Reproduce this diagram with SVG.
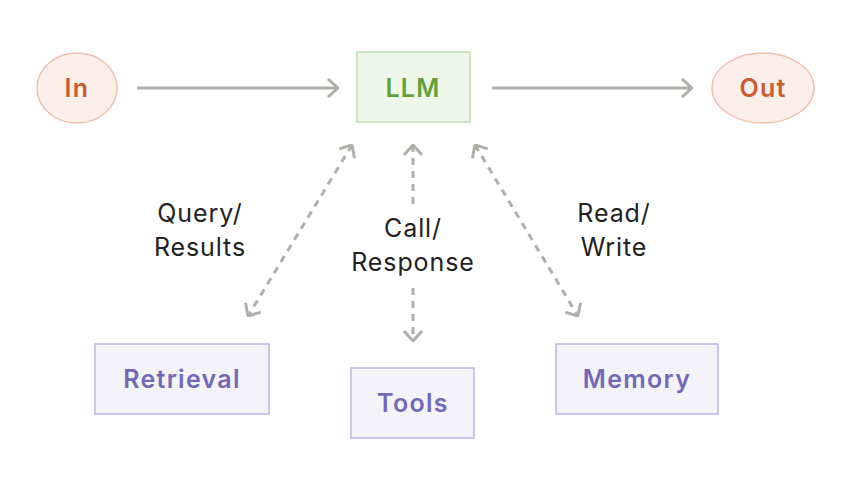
<svg xmlns="http://www.w3.org/2000/svg" width="847" height="480" viewBox="0 0 847 480">
<style>
text{font-family:Inter,"Liberation Sans",sans-serif;text-anchor:middle;dominant-baseline:central}
.t{font-size:25px;font-weight:600;letter-spacing:1.3px}
.l{font-size:25px;fill:#222;letter-spacing:0.9px}
.io ellipse{fill:#fcefea;stroke:#efc0ad;stroke-width:1.5}
.io text{fill:#c65d34}
.p rect{fill:#f4f3fa;stroke:#bcb5e3;stroke-width:1.5}
.p text{fill:#7469b4}
.c{stroke:#b0afaa;stroke-width:3;fill:none}
.d{stroke-dasharray:7 6}
</style>
<defs>
<marker id="a" viewBox="0 0 12 20" refX="11" refY="10" markerWidth="12" markerHeight="20" markerUnits="userSpaceOnUse" orient="auto-start-reverse">
<path d="M1 1L11 10L1 19" fill="none" stroke="#b0afaa" stroke-width="3"/>
</marker>
</defs>
<rect width="847" height="480" fill="#fff"/>
<g id="connectors">
<line class="c" x1="137" y1="88" x2="338" y2="88" marker-end="url(#a)"/>
<line class="c" x1="492" y1="88" x2="692" y2="88" marker-end="url(#a)"/>
<line class="c d" x1="352" y1="145" x2="248" y2="316" marker-start="url(#a)" marker-end="url(#a)"/>
<line class="c d" x1="413" y1="145" x2="413" y2="341" marker-start="url(#a)" marker-end="url(#a)"/>
<line class="c d" x1="475" y1="145" x2="578" y2="316" marker-start="url(#a)" marker-end="url(#a)"/>
<rect x="348" y="208" width="130" height="74" fill="#fff"/>
<text class="l" x="200" y="213">Query/</text>
<text class="l" x="200" y="247">Results</text>
<text class="l" x="413" y="228">Call/</text>
<text class="l" x="413" y="262">Response</text>
<text class="l" x="614" y="213">Read/</text>
<text class="l" x="614" y="247">Write</text>
</g>
<g id="in" class="io"><ellipse cx="77" cy="88" rx="40" ry="35"/><text class="t" x="77" y="88">In</text></g>
<g id="out" class="io"><ellipse cx="763" cy="88" rx="51" ry="35"/><text class="t" x="763" y="88">Out</text></g>
<g id="llm"><rect x="357" y="52" width="113" height="70" fill="#eff7e9" stroke="#bfe0ad" stroke-width="1.5"/><text class="t" x="413" y="88" fill="#62a13e">LLM</text></g>
<g id="retrieval" class="p"><rect x="95" y="344" width="174" height="70"/><text class="t" x="182" y="379">Retrieval</text></g>
<g id="tools" class="p"><rect x="351" y="368" width="123" height="70"/><text class="t" x="413" y="403">Tools</text></g>
<g id="memory" class="p"><rect x="556" y="344" width="162" height="70"/><text class="t" x="637" y="379">Memory</text></g>
</svg>
